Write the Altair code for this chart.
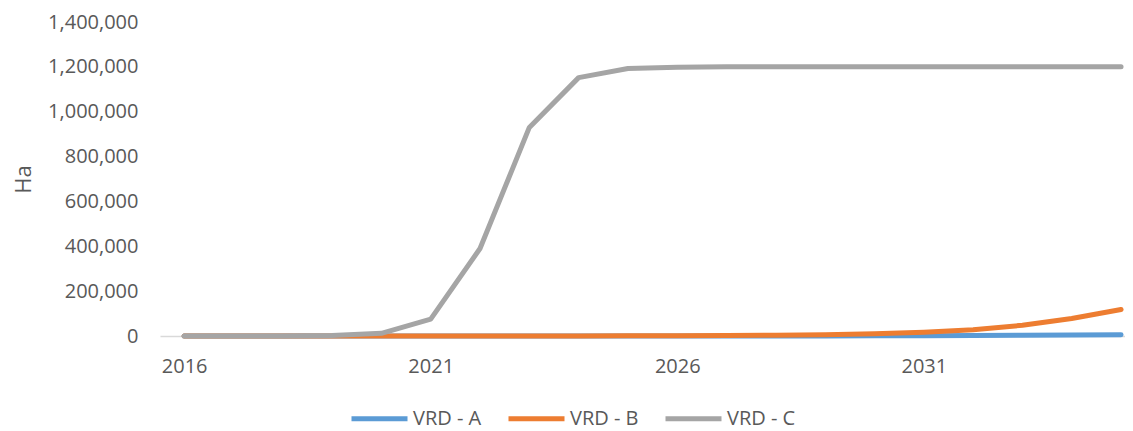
import altair as alt
import pandas as pd

years = list(range(2016, 2036))
vrd_a = [0, 0, 0, 0, 0, 0, 0, 0, 0, 0, 0, 0, 0, 500, 1000, 1500, 2200, 3000, 4000, 5500]
vrd_b = [0, 0, 0, 0, 0, 100, 200, 300, 500, 800, 1200, 2000, 3500, 6000, 10000, 17000, 28000, 48000, 78000, 118000]
vrd_c = [0, 0, 0, 2000, 12000, 75000, 390000, 930000, 1152000, 1193000, 1198000, 1200000,
         1200000, 1200000, 1200000, 1200000, 1200000, 1200000, 1200000, 1200000]
series_names = ["VRD - A", "VRD - B", "VRD - C"]
series_colors = ["#5B9BD5", "#ED7D31", "#A5A5A5"]
x_ticks = [2016, 2021, 2026, 2031]

rows = []
for name, vals in zip(series_names, [vrd_a, vrd_b, vrd_c]):
    for y, v in zip(years, vals):
        rows.append({"Year": y, "Value": v, "Series": name})
df = pd.DataFrame(rows)

FONT = "Open Sans"
TXT = "#595959"

chart = alt.Chart(df).mark_line(strokeWidth=5, strokeCap="round", strokeJoin="round").encode(
    x=alt.X("Year:Q",
            scale=alt.Scale(domain=[2015.51, 2035.08], nice=False, zero=False),
            axis=alt.Axis(values=x_ticks, format="d", title=None, grid=False, ticks=False, tickSize=0,
                          domainColor="#D9D9D9", domainWidth=1.5, labelPadding=20,
                          labelFont=FONT, labelFontSize=20, labelColor=TXT)),
    y=alt.Y("Value:Q",
            scale=alt.Scale(domain=[0, 1400000], nice=False),
            axis=alt.Axis(values=list(range(0, 1400001, 200000)), format=",d", title="Ha",
                          grid=False, ticks=False, tickSize=0, domain=False, labelPadding=22,
                          labelFont=FONT, labelFontSize=20, labelColor=TXT,
                          titleFont=FONT, titleFontSize=22, titleColor=TXT,
                          titleFontWeight="normal", titlePadding=12)),
    color=alt.Color("Series:N",
                    scale=alt.Scale(domain=series_names, range=series_colors),
                    legend=alt.Legend(title=None, orient="none", direction="horizontal",
                                      legendX=189, legendY=366,
                                      symbolType="stroke", symbolSize=3136, symbolStrokeWidth=5,
                                      labelFont=FONT, labelFontSize=20, labelColor=TXT,
                                      labelOffset=3, columnPadding=16)),
).properties(
    width=965, height=314,
    autosize=alt.AutoSizeParams(type="none"),
    padding={"left": 152, "top": 14, "right": 0, "bottom": 100},
).configure_view(stroke=None)

chart.save("out.html", embed_options={"renderer": "svg", "actions": False})
